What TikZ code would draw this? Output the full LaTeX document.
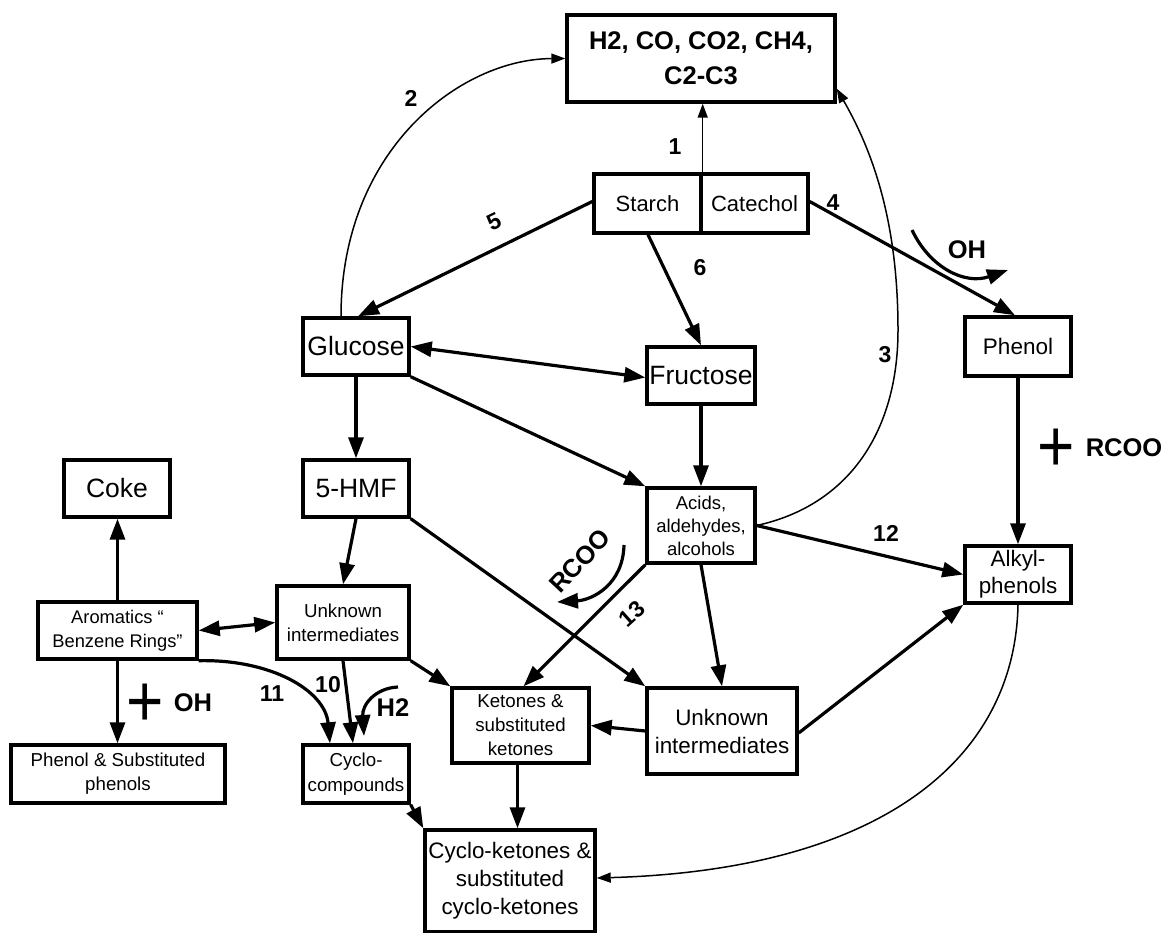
\documentclass[tikz,border=0pt]{standalone}
\usepackage{fontspec}
\setmainfont{Liberation Sans}
\usetikzlibrary{arrows.meta,calc}
\begin{document}
\begin{tikzpicture}[x=1pt,y=-1pt,
  box/.style={draw,line width=3.4pt,inner sep=0pt,align=center},
  fbig/.style={font=\fontsize{26.5}{30}\selectfont},
  fmid/.style={font=\fontsize{22.4}{28}\selectfont},
  fsm/.style={font=\fontsize{18.7}{24}\selectfont},
  lbl/.style={font=\bfseries\fontsize{23}{25}\selectfont,inner sep=0pt},
  lblb/.style={font=\bfseries\fontsize{25.5}{27}\selectfont,inner sep=0pt},
  plus/.style={font=\fontsize{64}{64}\selectfont,inner sep=0pt},
  thk/.style={line width=3.2pt,-{Triangle[length=21pt,width=15pt]}},
  thkb/.style={line width=3.2pt,{Triangle[length=21pt,width=15pt]}-{Triangle[length=21pt,width=15pt]}},
  thn/.style={line width=1.5pt,-{Triangle[length=14pt,width=10pt]}}]
\useasboundingbox (0,0) rectangle (1166,933);

% nodes
\node[box,minimum width=268,minimum height=87,font=\bfseries\fontsize{25.5}{35}\selectfont] (gas) at (701,58.5) {H2, CO, CO2, CH4,\\C2-C3};
\node[box,font=\fontsize{22}{26}\selectfont,minimum width=107,minimum height=59] (starch) at (647.5,203.5) {Starch};
\node[box,font=\fontsize{22}{26}\selectfont,minimum width=107,minimum height=59] (cat) at (754.5,203.5) {Catechol};
\node[box,fbig,minimum width=106,minimum height=57] (glu) at (356,346.5) {Glucose};
\node[box,fbig,minimum width=108,minimum height=57] (fru) at (701,375.5) {Fructose};
\node[box,font=\fontsize{22.5}{26}\selectfont,minimum width=106,minimum height=59] (phe) at (1018,346.5) {Phenol};
\node[box,fbig,minimum width=106,minimum height=57] (hmf) at (356,488.5) {5-HMF};
\node[box,fbig,minimum width=106,minimum height=57] (coke) at (117,488.5) {Coke};
\node[box,font=\fontsize{18.5}{23}\selectfont,minimum width=108,minimum height=75] (acid) at (701,525.5) {Acids,\\aldehydes,\\alcohols};
\node[box,font=\fontsize{22.4}{27}\selectfont,minimum width=106,minimum height=57] (alk) at (1018,574.5) {Alkyl-\\phenols};
\node[box,font=\fontsize{18.3}{24}\selectfont,minimum width=159,minimum height=57] (aro) at (117.5,630.5) {Aromatics “\\Benzene Rings”};
\node[box,fsm,minimum width=132,minimum height=73] (unkl) at (343,622.5) {Unknown\\intermediates};
\node[box,fsm,minimum width=214,minimum height=58] (phs) at (118,774) {Phenol \& Substituted\\phenols};
\node[box,font=\fontsize{18.7}{25}\selectfont,minimum width=106,minimum height=58] (cyc) at (356,774) {Cyclo-\\compounds};
\node[box,fsm,minimum width=137,minimum height=75] (ket) at (520.5,725.5) {Ketones \&\\substituted\\ketones};
\node[box,fmid,minimum width=150,minimum height=86] (unkr) at (722,731) {Unknown\\intermediates};
\node[box,fmid,minimum width=170,minimum height=102] (cyk) at (510,881) {Cyclo-ketones \&\\substituted\\cyclo-ketones};

% connectors
\draw[thn] (starch.north east) -- (starch.north east |- gas.south);
\draw[thn] ([xshift=-15]glu.north) .. controls (341,150) and (460,59) .. (gas.west);
\draw[thn] (acid.east) .. controls (850,505) and (898,430) .. (898,330) .. controls (898,220) and (872,150) .. ([yshift=15pt]gas.south east);
\draw[thk] ([yshift=2]starch.west) -- ([xshift=2]glu.north);
\draw[thk] ([xshift=0.5]starch.south) -- (fru.north);
\draw[thk] ([yshift=2]cat.east) -- ([xshift=-3]phe.north);
\draw[thkb] (glu.east) -- ([yshift=-2]fru.west);
\draw[thk] (glu.south) -- (hmf.north);
\draw[thk] (glu.south east) -- (acid.north west);
\draw[thk] (fru.south) -- (acid.north);
\draw[thk] (phe.south) -- (alk.north);
\draw[thk] (acid.east) -- (alk.west);
\draw[thk] (hmf.south) -- (unkl.north);
\draw[thk] (hmf.south east) -- (unkr.north west);
\draw[thk] (acid.south west) -- ([xshift=3]ket.north);
\draw[thk] (acid.south) -- (unkr.north);
\draw[thk] ([yshift=-2]unkr.east) -- (alk.south west);
\draw[thk] (unkr.west) -- (ket.east);
\draw[thk] (unkl.south east) -- (ket.north west);
\draw[thk] (unkl.south) -- ([xshift=-3]cyc.north);
\draw[thkb] (aro.east) -- (unkl.west);
\draw[thk] (aro.north) -- (aro.north |- coke.south);
\draw[thk] (aro.south) -- (aro.south |- phs.north);
\draw[thk] (aro.south east) .. controls (270,659) and (325,690) .. ([xshift=-26]cyc.north);
\draw[thk] (cyc.south east) -- (cyk.north west);
\draw[thk] ([xshift=-3]ket.south) -- ([xshift=-3]ket.south |- cyk.north);
\draw[thn] (alk.south) .. controls (1015,760) and (880,870) .. ([yshift=3]cyk.east);

% small curved arrows
\draw[thk] (912,230) .. controls (930,268) and (965,285) .. (1008,270);
\draw[thk] (398,687) .. controls (375,688) and (362,705) .. (364,736);
\draw[thk] (624,545) .. controls (623,585) and (592,600) .. (557,602);

% labels
\node[lbl] (l1) at (675,147) {1};
\node[lbl] (l2) at (411,98) {2};
\node[lbl] (l3) at (885,355) {3};
\node[lbl] (l4) at (833,203) {4};
\node[lbl,rotate=26] (l5) at (494,222) {5};
\node[lbl] (l6) at (700,268) {6};
\node[lbl] (l10) at (328,685) {10};
\node[lbl] (l11) at (272,694) {11};
\node[lbl] (l12) at (886,533) {12};
\node[lbl,rotate=42] (l13) at (632,614) {13};
\node[lblb] (oh1) at (967,250) {OH};
\node[plus] (p1) at (1056,450) {\scalebox{1}[1.15]{+}};
\node[lblb] (rc1) at (1124,448) {RCOO};
\node[plus] (p2) at (145,705) {\scalebox{1}[1.15]{+}};
\node[lblb] (oh2) at (193,703) {OH};
\node[lblb] (h2) at (393,708) {H2};
\node[lblb,rotate=47] (rc2) at (580,561) {RCOO};
\end{tikzpicture}
\end{document}
